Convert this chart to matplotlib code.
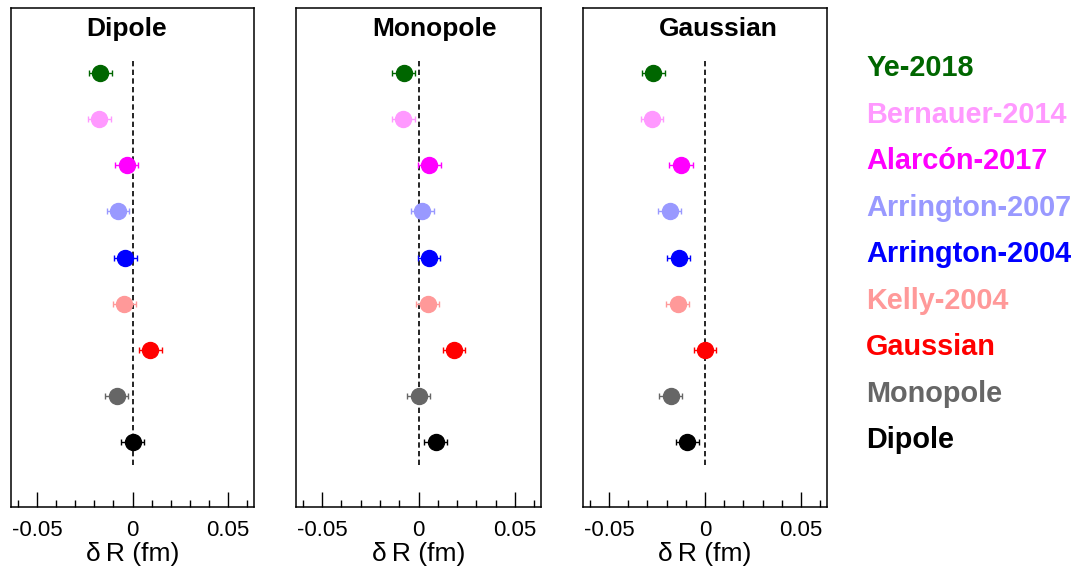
import numpy as np
import matplotlib
matplotlib.use('Agg')
import matplotlib.pyplot as plt
from matplotlib.ticker import MultipleLocator

plt.rcParams['font.family'] = ['Liberation Sans', 'DejaVu Sans']

# fits, listed top to bottom
labels = ['Ye-2018', 'Bernauer-2014', 'Alarcón-2017', 'Arrington-2007',
          'Arrington-2004', 'Kelly-2004', 'Gaussian', 'Monopole', 'Dipole']
colors = ['#006600', '#ff99ff', '#ff00ff', '#9999ff', '#0000ff',
          '#ff9999', '#ff0000', '#666666', '#000000']

# delta R (fm) relative to the reference model of each panel
panels = ['Dipole', 'Monopole', 'Gaussian']
dr_dipole = [-0.0168, -0.0174, -0.0031, -0.0076, -0.0038, -0.0042, 0.0094, -0.0083, 0.0]
dr_monopole = [-0.0077, -0.0078, 0.0057, 0.0020, 0.0054, 0.0049, 0.0184, 0.0, 0.0089]
dr_gaussian = [-0.0269, -0.0276, -0.0125, -0.0184, -0.0138, -0.0141, 0.0, -0.0179, -0.0092]
dr_err = [0.0059, 0.0059, 0.0061, 0.0059, 0.0059, 0.006, 0.0059, 0.006, 0.006]

ypos = np.arange(len(labels), 0, -1)

W, H = 1080, 577
fig = plt.figure(figsize=(W / 100, H / 100), dpi=100)

# axes boxes in pixels: left, right
boxes = [(11, 254), (296, 541), (583, 827)]
top, bottom = 8, 507
title_x = [0.477, 0.565, 0.553]

for k, (name, vals) in enumerate(zip(panels, [dr_dipole, dr_monopole, dr_gaussian])):
    l, r = boxes[k]
    ax = fig.add_axes([l / W, (H - bottom) / H, (r - l) / W, (bottom - top) / H])
    ax.plot([0, 0], [0.5, 9.33], color='black', lw=1.2, ls=(0, (3.2, 2.0)), zorder=1)
    for i in range(len(labels)):
        ax.errorbar(vals[i], ypos[i], xerr=dr_err[i], fmt='o', color=colors[i],
                    ms=11.5, elinewidth=1.0, capsize=2.5, capthick=1.0, zorder=3)
    ax.set_xlim(-0.0636, 0.0636)
    ax.set_ylim(5 - 5.41, 5 + 5.41)
    ax.set_yticks([])
    ax.xaxis.set_major_locator(MultipleLocator(0.05))
    ax.xaxis.set_minor_locator(MultipleLocator(0.01))
    ax.xaxis.set_major_formatter(plt.FuncFormatter(lambda v, p: '0' if abs(v) < 1e-9 else f'{v:g}'))
    ax.tick_params(axis='x', which='both', direction='in', top=False, bottom=True,
                   width=1.0, labelsize=16, pad=9)
    ax.tick_params(axis='x', which='major', length=11)
    ax.tick_params(axis='x', which='minor', length=5)
    for s in ax.spines.values():
        s.set_linewidth(1.1)
    ax.set_xlabel('δ\u2009R (fm)', fontsize=19, labelpad=1)
    ax.text(title_x[k], (bottom - 36) / (bottom - top), name, transform=ax.transAxes,
            ha='center', va='baseline', fontsize=19, fontweight='bold')

# coloured legend on the right
for i, lab in enumerate(labels):
    yb = 76 + i * 46.53
    fig.text(866 / W, 1 - yb / H, lab, color=colors[i], fontsize=20.8,
             fontweight='bold', ha='left', va='baseline')

fig.savefig('out.png', dpi=100)
